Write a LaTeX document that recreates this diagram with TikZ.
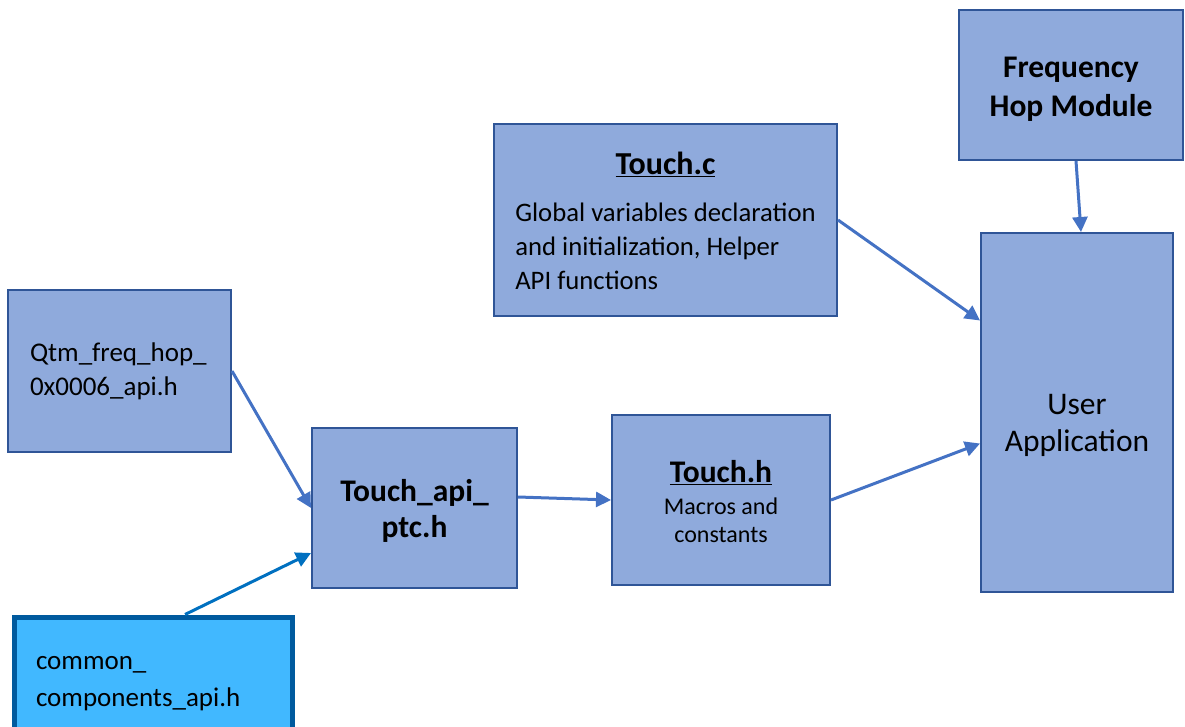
\documentclass[tikz,border=0pt]{standalone}
\usepackage{fontspec}
\setmainfont{Carlito}
\usetikzlibrary{arrows.meta}
\definecolor{blockfill}{HTML}{8FAADC}
\definecolor{blockline}{HTML}{2F5597}
\definecolor{linkcolor}{HTML}{4472C4}
\definecolor{commonfill}{HTML}{41B8FF}
\definecolor{commonline}{HTML}{005A9E}
\definecolor{commonlink}{HTML}{0070C0}
\begin{document}
\begin{tikzpicture}[x=1pt,y=-1pt,
	block/.style={rectangle, draw=blockline, fill=blockfill, line width=2pt, inner sep=0pt},
	link/.style={draw=linkcolor, line width=3pt, -{Triangle[length=15pt,width=15pt]}}]
			
			\useasboundingbox (0,0) rectangle (1185,727);
			
			%Blocks
			\node (freqHop) at (1071,85) [block, minimum width=224pt, minimum height=150pt, 
			align=center, font=\fontsize{31.5}{39}\selectfont\bfseries] {\rule{0pt}{28pt}Frequency\\Hop Module};
			\node (touchC) at (665.5,220) [block, minimum width=343pt, minimum height=192pt, 
			align=center, font=\fontsize{26.7}{34}\selectfont] {\rule{0pt}{34pt}\textbf{\underline{\fontsize{32}{34}\selectfont Touch.c}}\\[13pt]
			\begin{tabular}[t]{@{}l@{}}Global variables declaration\\and initialization, Helper\\API functions\end{tabular}};
			\node (userApp) at (1077,412.5) [block, minimum width=192pt, minimum height=359pt, 
			align=center, font=\fontsize{31.5}{37}\selectfont] {\rule{0pt}{46pt}User\\Application};
			\node (qtm) at (119.5,371) [block, minimum width=223pt, minimum height=162pt, 
			text width=179pt, align=left, font=\fontsize{27}{34}\selectfont] {Qtm\_freq\_hop\_\\0x0006\_api.h};
			\node (touchApi) at (414.5,508) [block, minimum width=205pt, minimum height=160pt, 
			align=center, font=\fontsize{31.5}{36}\selectfont\bfseries] {\rule{0pt}{28pt}Touch\_api\_\\ptc.h};
			\node (touchH) at (721,500) [block, minimum width=218pt, minimum height=170pt, 
			align=center, font=\fontsize{24}{28}\selectfont] {\rule{0pt}{26pt}\textbf{\underline{\fontsize{31.5}{34}\selectfont Touch.h}}\\[4pt]Macros and\\constants};
			\node (common) at (153,680) [rectangle, draw=commonline, fill=commonfill, line width=5pt, 
			minimum width=278pt, minimum height=126pt, inner sep=0pt, text width=234pt, align=left, 
			font=\fontsize{27}{37}\selectfont] {\rule{0pt}{21pt}common\_\\components\_api.h};
			
			%Links
			\draw [link] (qtm.east) -- (touchApi.west);
			\draw [link, draw=commonlink] ([xshift=32pt]common.north) -- ([yshift=-45pt]touchApi.west);
			\draw [link] ([yshift=11pt]touchApi.east) -- (touchH.west);
			\draw [link] (touchH.east) -- ([yshift=-31pt]userApp.west);
			\draw [link] (touchC.east) -- ([yshift=92pt]userApp.west);
			\draw [link] ([xshift=5pt]freqHop.south) -- ([xshift=4pt]userApp.north);
			
\end{tikzpicture}
\end{document}
